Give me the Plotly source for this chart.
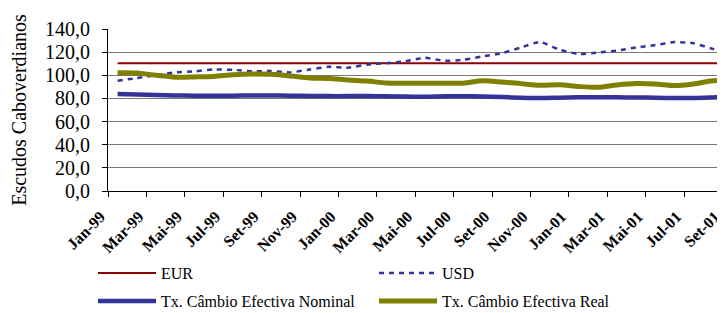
import plotly.graph_objects as go

months = ["Jan-99", "Fev-99", "Mar-99", "Abr-99", "Mai-99", "Jun-99", "Jul-99", "Ago-99",
          "Set-99", "Out-99", "Nov-99", "Dez-99", "Jan-00", "Fev-00", "Mar-00", "Abr-00",
          "Mai-00", "Jun-00", "Jul-00", "Ago-00", "Set-00", "Out-00", "Nov-00", "Dez-00",
          "Jan-01", "Fev-01", "Mar-01", "Abr-01", "Mai-01", "Jun-01", "Jul-01", "Ago-01",
          "Set-01"]

eur = [110.3, 110.3, 110.3, 110.3, 110.3, 110.3, 110.3, 110.3, 110.3, 110.3, 110.3,
       110.3, 110.3, 110.3, 110.3, 110.3, 110.3, 110.3, 110.3, 110.3, 110.3, 110.3,
       110.3, 110.3, 110.3, 110.3, 110.3, 110.3, 110.3, 110.3, 110.3, 110.3, 110.3]

usd = [95.3, 97.6, 100.1, 102.5, 103.4, 105.1, 104.7, 103.5, 103.7, 102.5, 105.0,
       107.3, 106.6, 109.2, 110.5, 112.2, 115.2, 112.5, 113.4, 116.3, 119.0, 124.0,
       128.8, 122.2, 118.4, 119.6, 121.3, 124.0, 126.1, 128.7, 127.7, 122.8, 120.6]

nominal = [83.9, 83.4, 82.9, 82.6, 82.4, 82.3, 82.4, 82.5, 82.5, 82.4, 82.2,
           82.0, 82.0, 82.0, 81.8, 81.6, 81.4, 81.8, 81.9, 81.7, 81.2, 80.6,
           80.3, 80.6, 81.0, 81.1, 81.0, 80.8, 80.6, 80.3, 80.4, 80.9, 81.5]

real = [102.2, 102.0, 100.0, 98.4, 98.6, 99.0, 100.4, 101.2, 100.8, 99.4, 97.6,
        97.3, 96.0, 95.0, 93.4, 93.2, 93.1, 93.2, 93.2, 95.2, 94.2, 92.8,
        91.4, 91.8, 90.3, 89.6, 91.6, 92.8, 92.4, 91.1, 92.5, 95.2, 95.9]

names = ["EUR", "USD", "Tx. Câmbio Efectiva Nominal", "Tx. Câmbio Efectiva Real"]
y_title = "Escudos Caboverdianos"

FONT = "Liberation Serif"

fig = go.Figure()
fig.add_trace(go.Scatter(x=months, y=eur, name=names[0], mode="lines",
                         line=dict(color="#8B0000", width=2), legend="legend"))
fig.add_trace(go.Scatter(x=months, y=usd, name=names[1], mode="lines",
                         line=dict(color="#333399", width=2.5, dash="5px,5px", shape="spline", smoothing=0.5),
                         legend="legend"))
fig.add_trace(go.Scatter(x=months, y=nominal, name=names[2], mode="lines",
                         line=dict(color="#333399", width=4.5, shape="spline", smoothing=0.8),
                         legend="legend2"))
fig.add_trace(go.Scatter(x=months, y=real, name=names[3], mode="lines",
                         line=dict(color="#808000", width=5, shape="spline", smoothing=0.8),
                         legend="legend2"))

leg_common = dict(orientation="h", xref="container", yref="container",
                  xanchor="left", yanchor="middle", entrywidth=208,
                  entrywidthmode="pixels", itemwidth=58,
                  font=dict(family=FONT, size=16, color="#000000"),
                  bgcolor="rgba(0,0,0,0)", borderwidth=0)

fig.update_layout(
    width=725, height=313,
    margin=dict(l=100, r=0, t=21, b=120),
    paper_bgcolor="white", plot_bgcolor="white",
    separators=",.",
    font=dict(family=FONT, color="#000000"),
    legend=dict(x=85 / 725, y=1 - 265 / 313, **leg_common),
    legend2=dict(x=85 / 725, y=1 - 293 / 313, **leg_common),
    xaxis=dict(type="category", range=[-0.5, 32.05], dtick=2, tickson="boundaries",
               showgrid=False, ticks="outside", ticklen=5, tickcolor="#000000",
               showline=True, linecolor="#000000", linewidth=1,
               tickangle=-45, ticklabelshift=-17, ticklabelstandoff=9,
               tickfont=dict(family=FONT, size=16, color="#000000", weight="bold")),
    yaxis=dict(range=[0, 140], dtick=20, tickformat=".1f",
               showgrid=True, gridcolor="#777777", gridwidth=1,
               ticks="outside", ticklen=5, tickcolor="#000000",
               showline=True, linecolor="#000000", linewidth=1,
               zeroline=False, ticklabelstandoff=8,
               tickfont=dict(family=FONT, size=20, color="#000000"),
               title=dict(text=y_title, font=dict(family=FONT, size=20, color="#000000"), standoff=15)),
)

fig.write_html("out.html")
